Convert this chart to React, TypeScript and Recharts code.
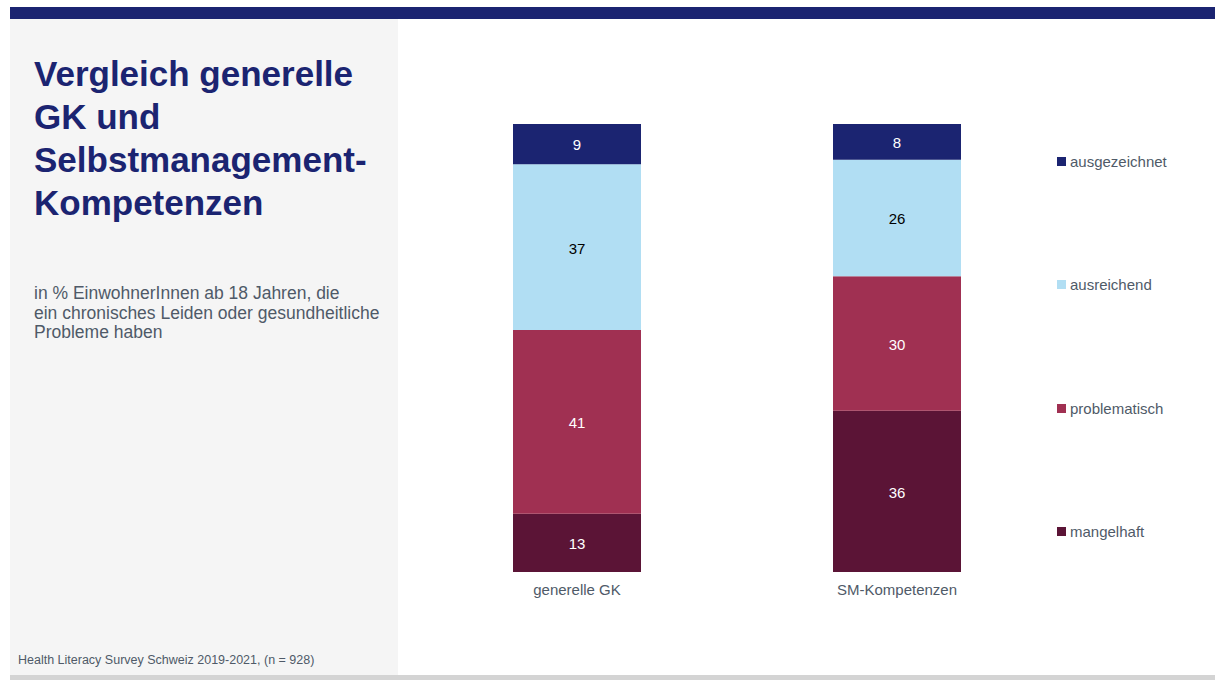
import React from "react";
import { BarChart, Bar, XAxis, YAxis, LabelList, Legend } from "recharts";

const categories = ["generelle GK", "SM-Kompetenzen"];
const mangelhaft = [13, 36];
const problematisch = [41, 30];
const ausreichend = [37, 26];
const ausgezeichnet = [9, 8];

const seriesNames = ["mangelhaft", "problematisch", "ausreichend", "ausgezeichnet"];
const seriesColors = ["#5b1436", "#a03052", "#b1def3", "#1b2471"];
const labelColors = ["#ffffff", "#ffffff", "#000000", "#ffffff"];
const seriesValues = [mangelhaft, problematisch, ausreichend, ausgezeichnet];

const data = categories.map((c, i) => {
  const row: Record<string, string | number> = { name: c };
  seriesNames.forEach((s, j) => {
    row[s] = seriesValues[j][i];
  });
  return row;
});

const FONT = "'Liberation Sans', Arial, Helvetica, sans-serif";

const LegendContent = () => {
  const items = seriesNames.map((n, i) => ({ n, c: seriesColors[i] })).reverse();
  return (
    <div style={{ fontFamily: FONT }}>
      {items.map((it, i) => (
        <div
          key={it.n}
          style={{
            display: "flex",
            alignItems: "center",
            height: 18,
            marginBottom: i < items.length - 1 ? 105.5 : 0,
          }}
        >
          <div style={{ width: 9, height: 9, background: it.c, marginRight: 4 }} />
          <span style={{ fontSize: 15, color: "#4f5a68" }}>{it.n}</span>
        </div>
      ))}
    </div>
  );
};

export default function App() {
  return (
    <div
      style={{
        position: "fixed",
        left: 0,
        top: 0,
        width: 1215,
        height: 680,
        background: "#ffffff",
        fontFamily: FONT,
        overflow: "hidden",
      }}
    >
      <div style={{ position: "absolute", left: 10, top: 7, width: 1205, height: 12, background: "#1b2471" }} />
      <div style={{ position: "absolute", left: 10, top: 19, width: 388, height: 656, background: "#f5f5f5" }} />
      <div style={{ position: "absolute", left: 10, top: 675, width: 1205, height: 5, background: "#d4d4d4" }} />
      <div
        style={{
          position: "absolute",
          left: 34,
          top: 52,
          width: 380,
          fontSize: 35,
          fontWeight: "bold",
          lineHeight: "43px",
          color: "#1b2471",
        }}
      >
        Vergleich generelle
        <br />
        GK und
        <br />
        Selbstmanagement-
        <br />
        Kompetenzen
      </div>
      <div
        style={{
          position: "absolute",
          left: 34,
          top: 284,
          width: 380,
          fontSize: 17.5,
          lineHeight: "19.5px",
          color: "#4f5a68",
          whiteSpace: "nowrap",
        }}
      >
        in % EinwohnerInnen ab 18 Jahren, die
        <br />
        ein chronisches Leiden oder gesundheitliche
        <br />
        Probleme haben
      </div>
      <div
        style={{
          position: "absolute",
          left: 18,
          top: 653,
          fontSize: 12.5,
          color: "#4f5a68",
          whiteSpace: "nowrap",
        }}
      >
        Health Literacy Survey Schweiz 2019-2021, (n = 928)
      </div>
      <div style={{ position: "absolute", left: 0, top: 0 }}>
        <BarChart
          width={1215}
          height={680}
          data={data}
          margin={{ left: 417, right: 8, top: 124, bottom: 78 }}
          barSize={128}
        >
          <XAxis
            dataKey="name"
            axisLine={false}
            tickLine={false}
            tick={{ fill: "#4f5a68", fontSize: 15, fontFamily: FONT }}
            tickMargin={6}
          />
          <YAxis hide domain={[0, 100]} />
          <Legend
            layout="vertical"
            verticalAlign="top"
            align="right"
            content={<LegendContent />}
            wrapperStyle={{ left: 1057, top: 152, width: 150 }}
          />
          {seriesNames.map((s, i) => (
            <Bar key={s} dataKey={s} stackId="a" fill={seriesColors[i]} isAnimationActive={false}>
              <LabelList
                dataKey={s}
                position="center"
                fill={labelColors[i]}
                dy={1}
                style={{ fontSize: 15, fontFamily: FONT }}
              />
            </Bar>
          ))}
        </BarChart>
      </div>
    </div>
  );
}
